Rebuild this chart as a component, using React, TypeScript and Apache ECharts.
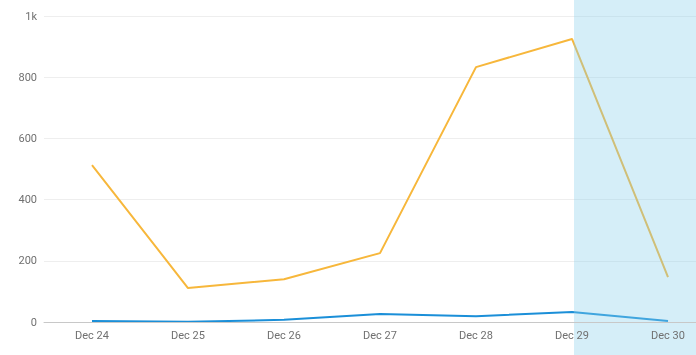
import React, { useEffect, useRef } from "react";
import * as echarts from "echarts";

const categories = ["Dec 24", "Dec 25", "Dec 26", "Dec 27", "Dec 28", "Dec 29", "Dec 30"];
const orangeValues = [513, 111, 140, 225, 833, 925, 147];
const blueValues = [3, 1, 7, 26, 19, 33, 3];
const shadeStart = "Dec 29";

export default function App() {
  const ref = useRef<HTMLDivElement>(null);
  useEffect(() => {
    if (!ref.current) return;
    const chart = echarts.init(ref.current, undefined, { renderer: "svg" });
    const font = "Roboto, 'Noto Sans', sans-serif";
    chart.setOption({
      animation: false,
      grid: {
        left: 44,
        width: 672,
        top: 16,
        bottom: 33,
        containLabel: false,
        outerBoundsMode: "none",
      },
      xAxis: {
        type: "category",
        data: categories,
        boundaryGap: true,
        z: 200,
        axisLine: { lineStyle: { color: "#c8c8c8" } },
        axisTick: { alignWithLabel: true, length: 4, lineStyle: { color: "#c8c8c8" } },
        axisLabel: { color: "#707070", fontSize: 11, fontFamily: font, margin: 8 },
        splitLine: { show: false },
      },
      yAxis: {
        type: "value",
        min: 0,
        max: 1000,
        interval: 200,
        axisLine: { show: false },
        axisTick: { show: false },
        axisLabel: {
          color: "#707070",
          fontSize: 11,
          fontFamily: font,
          margin: 7,
          formatter: (v: number) => (v === 1000 ? "1k" : String(v)),
        },
        splitLine: { lineStyle: { color: "#eeeeee" } },
      },
      series: [
        {
          type: "line",
          data: orangeValues,
          symbol: "none",
          lineStyle: { color: "#f7b73b", width: 2 },
          itemStyle: { color: "#f7b73b" },
        },
        {
          type: "line",
          data: blueValues,
          symbol: "none",
          lineStyle: { color: "#1b8fd8", width: 2 },
          itemStyle: { color: "#1b8fd8" },
        },
      ],
    });
    const x0 = chart.convertToPixel({ xAxisIndex: 0 }, shadeStart) as number;
    const w = chart.getWidth();
    const h = chart.getHeight();
    chart.setOption({
      graphic: [
        {
          type: "rect",
          z: 100,
          silent: true,
          shape: { x: x0 + 2, y: 0, width: w - x0 - 2, height: h },
          style: { fill: "rgba(135,206,235,0.35)" },
        },
      ],
    });
    return () => chart.dispose();
  }, []);
  return (
    <div
      ref={ref}
      style={{ position: "fixed", left: 0, top: 0, width: 696, height: 355 }}
    />
  );
}
